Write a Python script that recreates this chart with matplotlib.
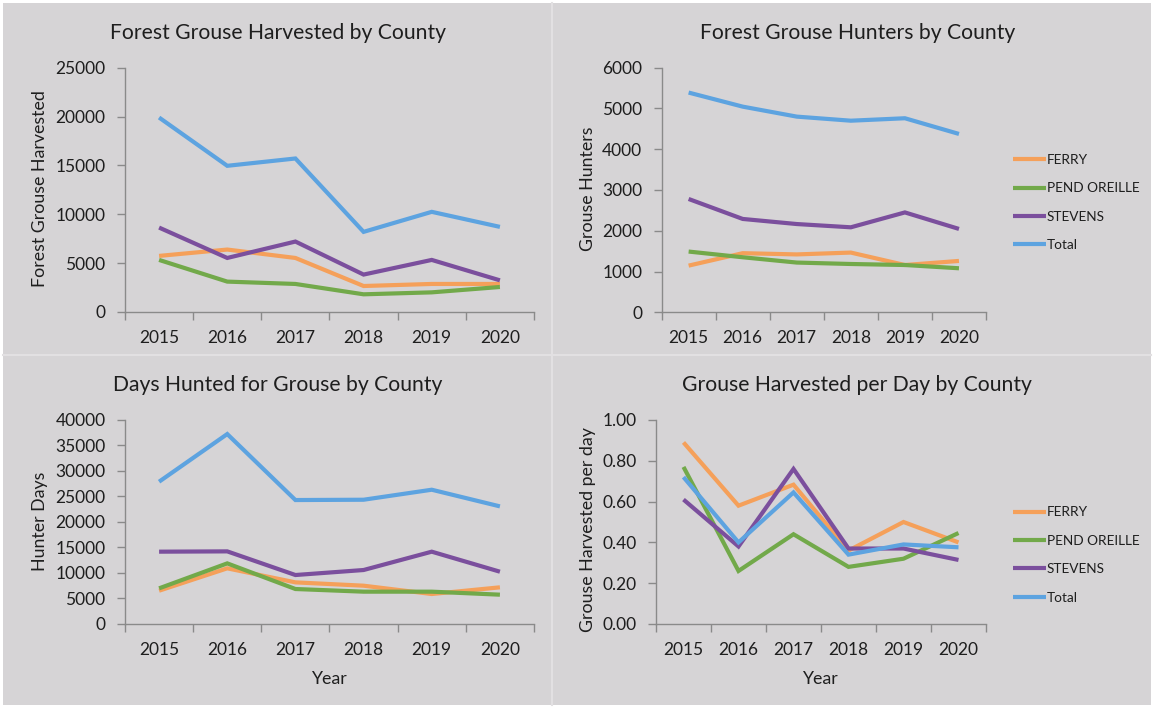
import matplotlib
matplotlib.use("Agg")
import matplotlib.pyplot as plt
from matplotlib.patches import Rectangle
from matplotlib.lines import Line2D

plt.rcParams['font.family'] = ['Lato', 'DejaVu Sans']

years = ['2015', '2016', '2017', '2018', '2019', '2020']
series_names = ['FERRY', 'PEND OREILLE', 'STEVENS', 'Total']

harvest_ferry = [5740, 6390, 5530, 2660, 2870, 2870]
harvest_pend = [5330, 3110, 2870, 1810, 2010, 2560]
harvest_stevens = [8640, 5530, 7210, 3830, 5330, 3240]
harvest_total = [19900, 14960, 15710, 8200, 10250, 8710]

hunters_ferry = [1145, 1450, 1420, 1465, 1160, 1260]
hunters_pend = [1490, 1350, 1220, 1185, 1160, 1080]
hunters_stevens = [2780, 2290, 2165, 2085, 2450, 2045]
hunters_total = [5390, 5045, 4800, 4700, 4760, 4375]

days_ferry = [6520, 10900, 8150, 7500, 5870, 7180]
days_pend = [6980, 11870, 6850, 6330, 6330, 5740]
days_stevens = [14160, 14220, 9590, 10570, 14160, 10240]
days_total = [27860, 37190, 24270, 24330, 26290, 23030]

perday_ferry = [0.89, 0.58, 0.683, 0.36, 0.50, 0.40]
perday_pend = [0.77, 0.26, 0.44, 0.28, 0.32, 0.446]
perday_stevens = [0.61, 0.38, 0.76, 0.37, 0.37, 0.314]
perday_total = [0.72, 0.40, 0.645, 0.34, 0.39, 0.376]

colors = ['#F5A05A', '#72A94A', '#7B4F9D', '#5DA3E0']

W, H = 1154, 708
fig = plt.figure(figsize=(W / 100, H / 100), dpi=100, facecolor='white')

BG = '#d6d4d6'
fig.patches.append(Rectangle((3 / W, 3 / H), (W - 6) / W, (H - 6) / H,
                             transform=fig.transFigure, facecolor=BG,
                             edgecolor='none', zorder=-10))
fig.lines.append(Line2D([552 / W, 552 / W], [3 / H, 1 - 3 / H], transform=fig.transFigure,
                        color='#e2e0e2', lw=1.5, zorder=-5))
fig.lines.append(Line2D([3 / W, 1 - 3 / W], [1 - 355 / H, 1 - 355 / H], transform=fig.transFigure,
                        color='#e2e0e2', lw=1.5, zorder=-5))

TXT = '#1e1e1e'
AX = '#8a8a8a'


def make_ax(left, right, top, bottom):
    ax = fig.add_axes([left / W, 1 - bottom / H, (right - left) / W, (bottom - top) / H])
    ax.set_facecolor('none')
    return ax


def style(ax, data, ymax, ystep, fmt, title, title_xy, ylabel, ylabel_xy,
          xlabel=None, xlabel_xy=None, legend_xy=None):
    x = list(range(len(years)))
    for vals, c, name in zip(data, colors, series_names):
        ax.plot(x, vals, color=c, lw=3.0, solid_joinstyle='miter', label=name,
                solid_capstyle='butt')
    ax.set_xlim(-0.5, len(years) - 0.5)
    ax.set_ylim(0, ymax)
    yt = [i * ystep for i in range(int(round(ymax / ystep)) + 1)]
    ax.set_yticks(yt)
    ax.set_yticklabels([fmt.format(v) for v in yt])
    ax.set_xticks(x)
    ax.set_xticklabels(years)
    ax.set_xticks([i - 0.5 for i in range(len(years) + 1)], minor=True)
    for s in ['top', 'right']:
        ax.spines[s].set_visible(False)
    for s in ['left', 'bottom']:
        ax.spines[s].set_color(AX)
        ax.spines[s].set_linewidth(1.0)
    ax.tick_params(axis='y', direction='out', length=6, width=1.0, color=AX,
                   labelsize=12.5, labelcolor=TXT, pad=8)
    ax.tick_params(axis='x', which='major', length=0, labelsize=12.5,
                   labelcolor=TXT, pad=13)
    ax.tick_params(axis='x', which='minor', direction='out', length=6, width=1.0, color=AX)
    fig.text(title_xy[0] / W, 1 - title_xy[1] / H, title, ha='center', va='center',
             fontsize=15.2, color=TXT)
    fig.text(ylabel_xy[0] / W, 1 - ylabel_xy[1] / H, ylabel, ha='center', va='center',
             rotation=90, fontsize=12.8, color=TXT)
    if xlabel:
        fig.text(xlabel_xy[0] / W, 1 - xlabel_xy[1] / H, xlabel, ha='center', va='center',
                 fontsize=12.8, color=TXT)
    if legend_xy:
        fs = 9.8
        fpx = fs * 100 / 72
        fig.legend(handles=ax.get_lines(), labels=series_names, loc='center left',
                   bbox_to_anchor=(legend_xy[0] / W, 1 - legend_xy[1] / H),
                   bbox_transform=fig.transFigure, frameon=False, fontsize=fs,
                   handlelength=33 / fpx, handletextpad=0.05, borderpad=0,
                   borderaxespad=0, labelspacing=(30 - fpx) / fpx,
                   labelcolor=TXT)


ax1 = make_ax(125, 534, 67.7, 312)
style(ax1, [harvest_ferry, harvest_pend, harvest_stevens, harvest_total], 25000, 5000, '{:d}',
      'Forest Grouse Harvested by County', (278, 33), 'Forest Grouse Harvested', (40, 189))

ax2 = make_ax(661.6, 986, 67.7, 312.3)
style(ax2, [hunters_ferry, hunters_pend, hunters_stevens, hunters_total], 6000, 1000, '{:d}',
      'Forest Grouse Hunters by County', (857.6, 33), 'Grouse Hunters', (588, 189),
      legend_xy=(1013, 202.5))

ax3 = make_ax(125, 534, 419.7, 624)
style(ax3, [days_ferry, days_pend, days_stevens, days_total], 40000, 5000, '{:d}',
      'Days Hunted for Grouse by County', (278, 385), 'Hunter Days', (40, 521.5),
      xlabel='Year', xlabel_xy=(329, 679))

ax4 = make_ax(656, 986, 420, 624)
style(ax4, [perday_ferry, perday_pend, perday_stevens, perday_total], 1.0, 0.2, '{:.2f}',
      'Grouse Harvested per Day by County', (857, 385), 'Grouse Harvested per day', (588, 530),
      xlabel='Year', xlabel_xy=(820, 679), legend_xy=(1013, 555))

fig.savefig('out.png', dpi=100, facecolor=fig.get_facecolor())
